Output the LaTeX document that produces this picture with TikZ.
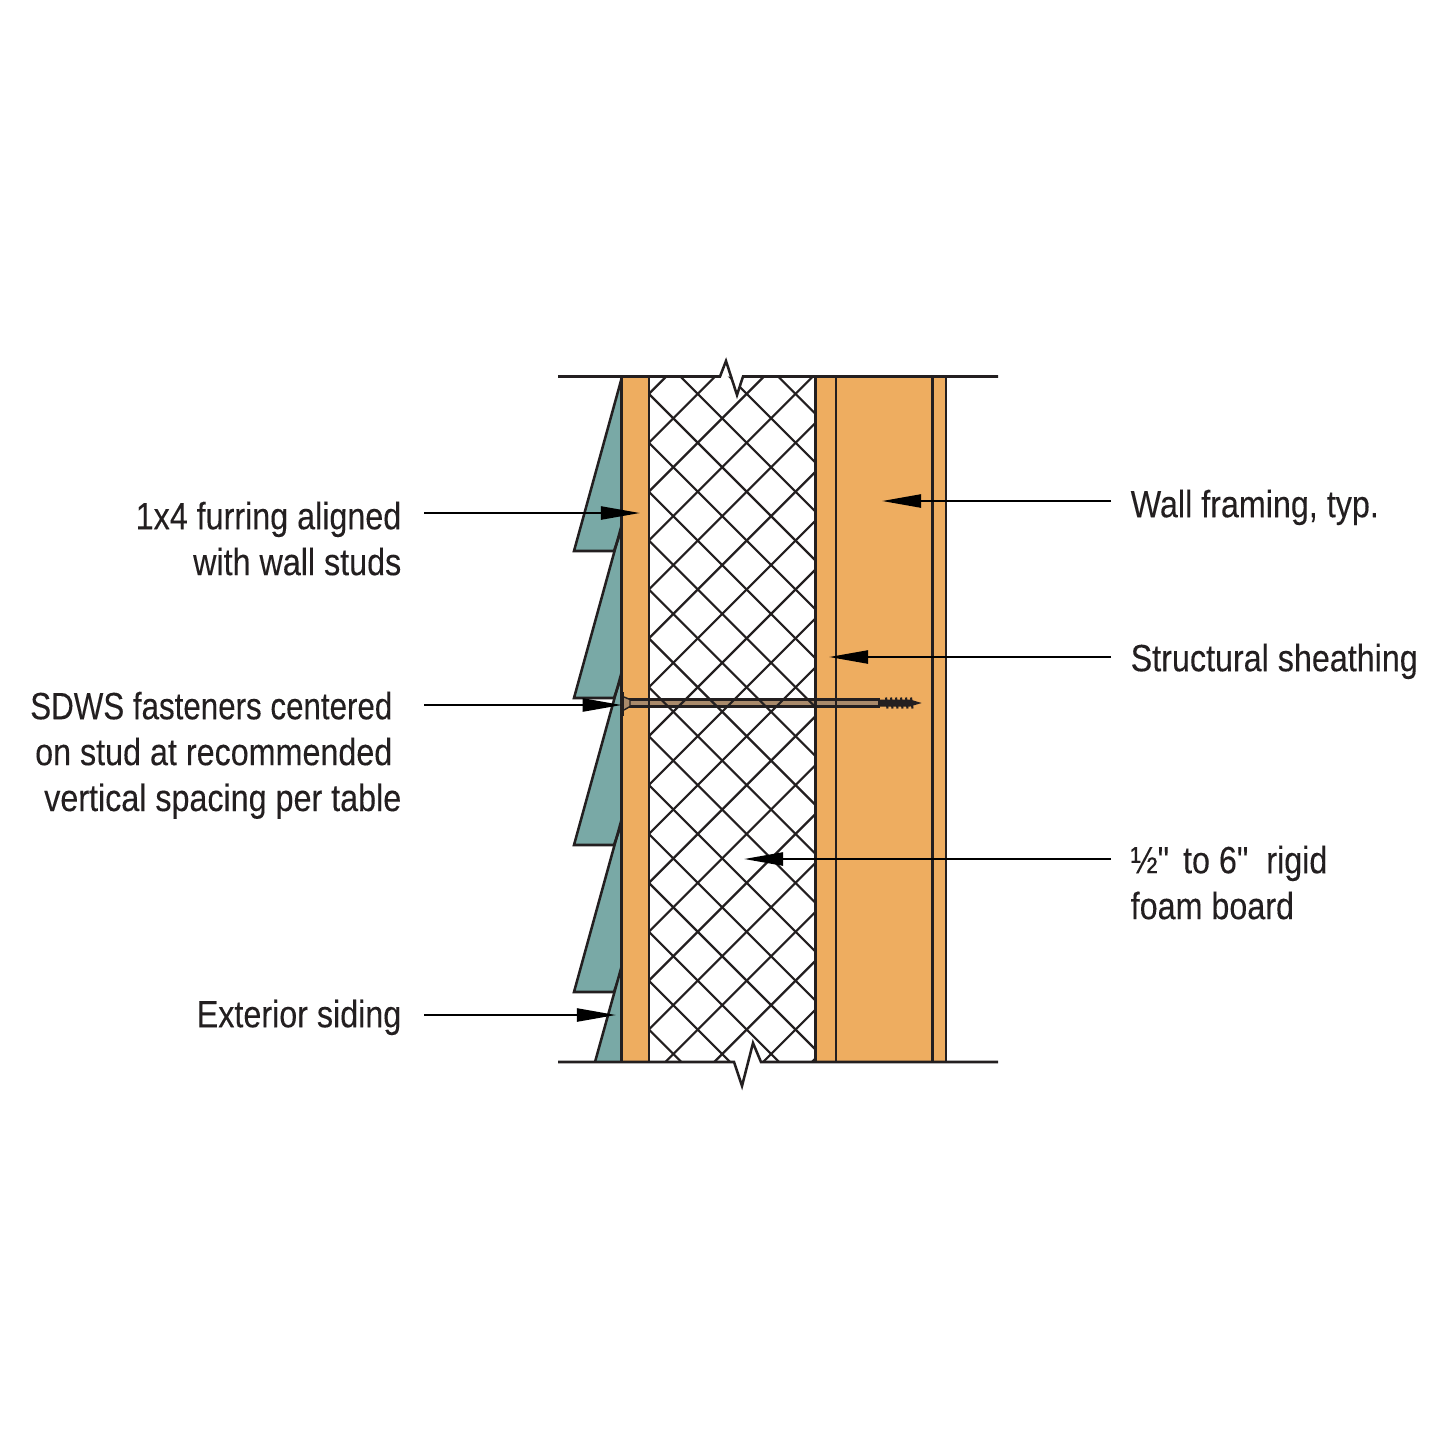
\documentclass[tikz,border=0pt]{standalone}
\usepackage{fontspec}
\setmainfont[FakeStretch=0.85,FakeBold=0.15,Ligatures=TeXOff]{Liberation Sans}
\usetikzlibrary{arrows.meta}
\definecolor{wood}{HTML}{EEAD60}
\definecolor{siding}{HTML}{79A9A6}
\definecolor{ink}{HTML}{231F20}
\definecolor{shaft}{HTML}{A98A6B}
\tikzset{
  wall/.style={color=ink,line width=0.72pt,line join=miter},
  hatch/.style={color=ink,line width=0.62pt},
  leader/.style={color=black,line width=0.65pt,-{Triangle[length=0.39cm,width=0.13cm]}},
  lbl/.style={inner ysep=0pt,inner xsep=0pt,color=ink,font=\fontsize{10.8}{13.05}\selectfont},
  lblleft/.style={lbl,align=right,anchor=north east},
  lblright/.style={lbl,align=left,anchor=north west}
}
\begin{document}
\begin{tikzpicture}[line cap=butt,x=0.01cm,y=-0.01cm]
\useasboundingbox (0,0) rectangle (1445,1445);
% siding boards
\foreach \n in {0,1,2,3}
\fill[siding,shift={(0,147*\n)}] (621.7,378) -- (574,551) -- (614,551) -- (621.7,529) -- cycle;
\foreach \n in {0,1,2,3}
\draw[wall,shift={(0,147*\n)}] (621.7,378) -- (574,551) -- (614,551) -- (621.7,529);
\fill[siding] (621.7,966) -- (595,1062) -- (621.7,1062) -- cycle;
\draw[wall] (621.7,966) -- (595,1062);
% wood
\fill[wood] (621.7,376.5) rectangle (649,1062);
\fill[wood] (815.3,376.5) rectangle (946,1062);
% fastener
\fill[shaft] (628,699.5) rectangle (880,706.5);
\draw[color=ink,line width=0.6pt] (628,699.5) -- (880,699.5) (628,706.5) -- (880,706.5);
% foam hatch
\begin{scope}
\clip (649,376.5) rectangle (815.3,1062);
\foreach \k in {-2,...,16}
\draw[hatch] (649,{1091.6+48.9*\k-649}) -- (815.3,{1091.6+48.9*\k-815.3});
\foreach \k in {-14,...,4}
\draw[hatch] (649,{649-255-48.9*\k}) -- (815.3,{815.3-255-48.9*\k});
\end{scope}
% verticals
\foreach \x in {621.7,649,815.3,836,932.5,946}
\draw[wall] (\x,376.5) -- (\x,1062);
% break lines
\fill[white] (720,376.5) -- (726,361) -- (737,395) -- (743,376.5) -- cycle;
\fill[white] (734,1062) -- (742,1086) -- (753,1043) -- (761,1062) -- cycle;
\draw[wall] (558,376.5) -- (720,376.5) -- (726,361) -- (737,395) -- (743,376.5) -- (998,376.5);
\draw[wall] (558,1062) -- (734,1062) -- (742,1086) -- (753,1043) -- (761,1062) -- (998,1062);
% fastener head and thread
\fill[ink] (622,692) rectangle (624,716);
\fill[shaft] (624,697) -- (630,699.5) -- (630,706.5) -- (624,710) -- cycle;
\draw[color=ink,line width=0.4pt] (624,697) -- (630,699.5) -- (630,706.5) -- (624,710);
\fill[ink] (878,699.5) -- (910,699.5) -- (921.7,703) -- (910,706.5) -- (878,706.5) -- cycle;
\foreach \x in {886,891,896,901,906,911}
\draw[color=ink,line width=0.6pt] (\x,697.5) -- (\x+1.5,708.5);
% labels
\node[lblleft] (furring) at (402,501) {1x4 furring aligned\\with wall studs};
\node[lblleft] (fastener) at (402,691) {\scalebox{0.97}[1]{SDWS fasteners centered}\rule{0.09cm}{0pt}\\on stud at recommended\rule{0.09cm}{0pt}\\vertical spacing per table};
\node[lblleft] (ext) at (402,999) {Exterior siding};
\node[lblright] (framing) at (1130,489) {Wall framing, typ.};
\node[lblright] (sheathing) at (1130,643) {Structural sheathing};
\node[lblright] (foam) at (1130,845) {½"\hspace{0.05cm} to 6"\hspace{0.09cm} rigid\\foam board};
% arrows
\coordinate (furringtip) at (640,513);
\coordinate (fastenertip) at (621.7,705);
\coordinate (exttip) at (616,1015);
\coordinate (framingtip) at (882,501);
\coordinate (sheathingtip) at (829,657);
\coordinate (foamtip) at (744,859);
\draw[leader] ([xshift=0.22cm]furring.east |- furringtip) -- (furringtip);
\draw[leader] ([xshift=0.22cm]fastener.east |- fastenertip) -- (fastenertip);
\draw[leader] ([xshift=0.22cm]ext.east |- exttip) -- (exttip);
\draw[leader] ([xshift=-0.19cm]framing.west |- framingtip) -- (framingtip);
\draw[leader] ([xshift=-0.19cm]sheathing.west |- sheathingtip) -- (sheathingtip);
\draw[leader] ([xshift=-0.19cm]foam.west |- foamtip) -- (foamtip);
\end{tikzpicture}
\end{document}
